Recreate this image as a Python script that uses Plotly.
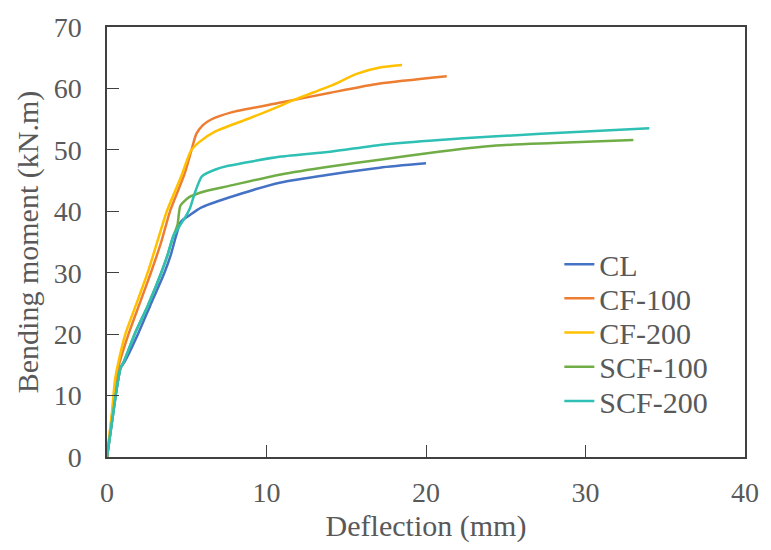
import plotly.graph_objects as go

series_names = ["CL", "CF-100", "CF-200", "SCF-100", "SCF-200"]

cl_x = [0, 0.3, 0.6, 0.85, 1.1, 1.94, 2.7, 3.6, 4.0, 4.32, 4.63, 5.2, 5.9, 7.6, 10.9, 14, 17.1, 20]
cl_y = [0, 5.5, 11, 14.5, 15.5, 20, 24.6, 30, 32.9, 35.9, 38.3, 39.4, 40.6, 42.2, 44.7, 46, 47.1, 47.8]

cf100_x = [0, 0.3, 0.55, 0.75, 1.35, 2.05, 2.75, 3.4, 3.95, 4.85, 5.3, 5.6, 6.0, 6.5, 7.8, 10.9, 14, 17.1, 21.3]
cf100_y = [0, 6.5, 12, 15, 20, 25, 30, 35, 40, 46, 50, 52.6, 54, 54.9, 56.1, 57.7, 59.3, 60.8, 62]

cf200_x = [0, 0.3, 0.5, 0.68, 1.15, 1.85, 2.55, 3.15, 3.75, 4.7, 5.25, 5.8, 6.8, 8.9, 10.9, 11.6, 14, 15.7, 17.1, 18.5]
cf200_y = [0, 7, 12.5, 15, 20, 25, 30, 35, 40, 46, 49.8, 51.3, 53, 55.1, 57.2, 58, 60.4, 62.4, 63.4, 63.8]

scf100_x = [0, 0.3, 0.6, 0.85, 1.05, 1.73, 2.55, 3.4, 3.8, 4.15, 4.42, 4.6, 5.15, 6.2, 7.6, 10.9, 14, 17.1, 20.2, 24.4, 28, 33]
scf100_y = [0, 5.5, 11, 14.5, 15.5, 20, 24.6, 30, 32.9, 35.9, 37.8, 40.9, 42.3, 43.3, 44.1, 46, 47.3, 48.4, 49.5, 50.7, 51.1, 51.6]

scf200_x = [0, 0.3, 0.6, 0.85, 1.05, 1.73, 2.55, 3.4, 3.8, 4.15, 4.55, 4.9, 5.2, 5.55, 5.95, 6.8, 7.6, 10.9, 14, 17.1, 20.2, 24.4, 30, 34]
scf200_y = [0, 5.5, 11, 14.5, 15.5, 20, 24.6, 30, 32.9, 35.9, 37.6, 39, 40.5, 43.3, 45.7, 46.8, 47.4, 48.9, 49.7, 50.8, 51.5, 52.2, 53, 53.5]

colors = ["#4472C4", "#ED7D31", "#FFC000", "#70AD47", "#2EC0B4"]

xs = [cl_x, cf100_x, cf200_x, scf100_x, scf200_x]
ys = [cl_y, cf100_y, cf200_y, scf100_y, scf200_y]

font_family = "Liberation Serif"
text_color = "#595959"
axis_color = "#404040"

W, H = 771, 550
ML, MR, MT, MB = 107, 18, 20, 93
plot_h = H - MT - MB

legend_keys = ["legend", "legend2", "legend3", "legend4", "legend5"]
legend_first_center_px = 261
legend_step_px = 34.75
legend_left = 0.709

fig = go.Figure()
layout_legends = {}
for i, (name, x, y, c) in enumerate(zip(series_names, xs, ys, colors)):
    fig.add_trace(go.Scatter(x=x, y=y, name=name, mode="lines", legend=legend_keys[i],
                             line=dict(color=c, width=2.5, shape="spline", smoothing=0.6)))
    cy = legend_first_center_px + i * legend_step_px
    layout_legends[legend_keys[i]] = dict(
        x=legend_left, y=1 - (cy - MT) / plot_h, xanchor="left", yanchor="middle",
        bgcolor="rgba(0,0,0,0)", font=dict(size=30, color=text_color, family=font_family),
        itemwidth=30)

fig.update_layout(
    width=W, height=H,
    margin=dict(l=ML, r=MR, t=MT, b=MB),
    plot_bgcolor="white", paper_bgcolor="white",
    font=dict(family=font_family, color=text_color, size=28),
    showlegend=True,
    xaxis=dict(range=[0, 40], tickvals=[0, 10, 20, 30, 40], ticks="inside", ticklen=12,
               tickcolor=axis_color, showline=True, linecolor=axis_color, linewidth=1.5,
               mirror=True, showgrid=False, zeroline=False, ticklabelstandoff=10,
               tickfont=dict(size=28, color=text_color),
               title=dict(text="Deflection (mm)", font=dict(size=30, color=text_color), standoff=8)),
    yaxis=dict(range=[0, 70], tickvals=[0, 10, 20, 30, 40, 50, 60, 70], ticks="inside", ticklen=12,
               tickcolor=axis_color, showline=True, linecolor=axis_color, linewidth=1.5,
               mirror=True, showgrid=False, zeroline=False, ticklabelstandoff=18,
               tickfont=dict(size=28, color=text_color),
               title=dict(text="Bending moment (kN.m)", font=dict(size=30, color=text_color), standoff=6)),
)
fig.update_layout(**layout_legends)

fig.write_html("out.html")
